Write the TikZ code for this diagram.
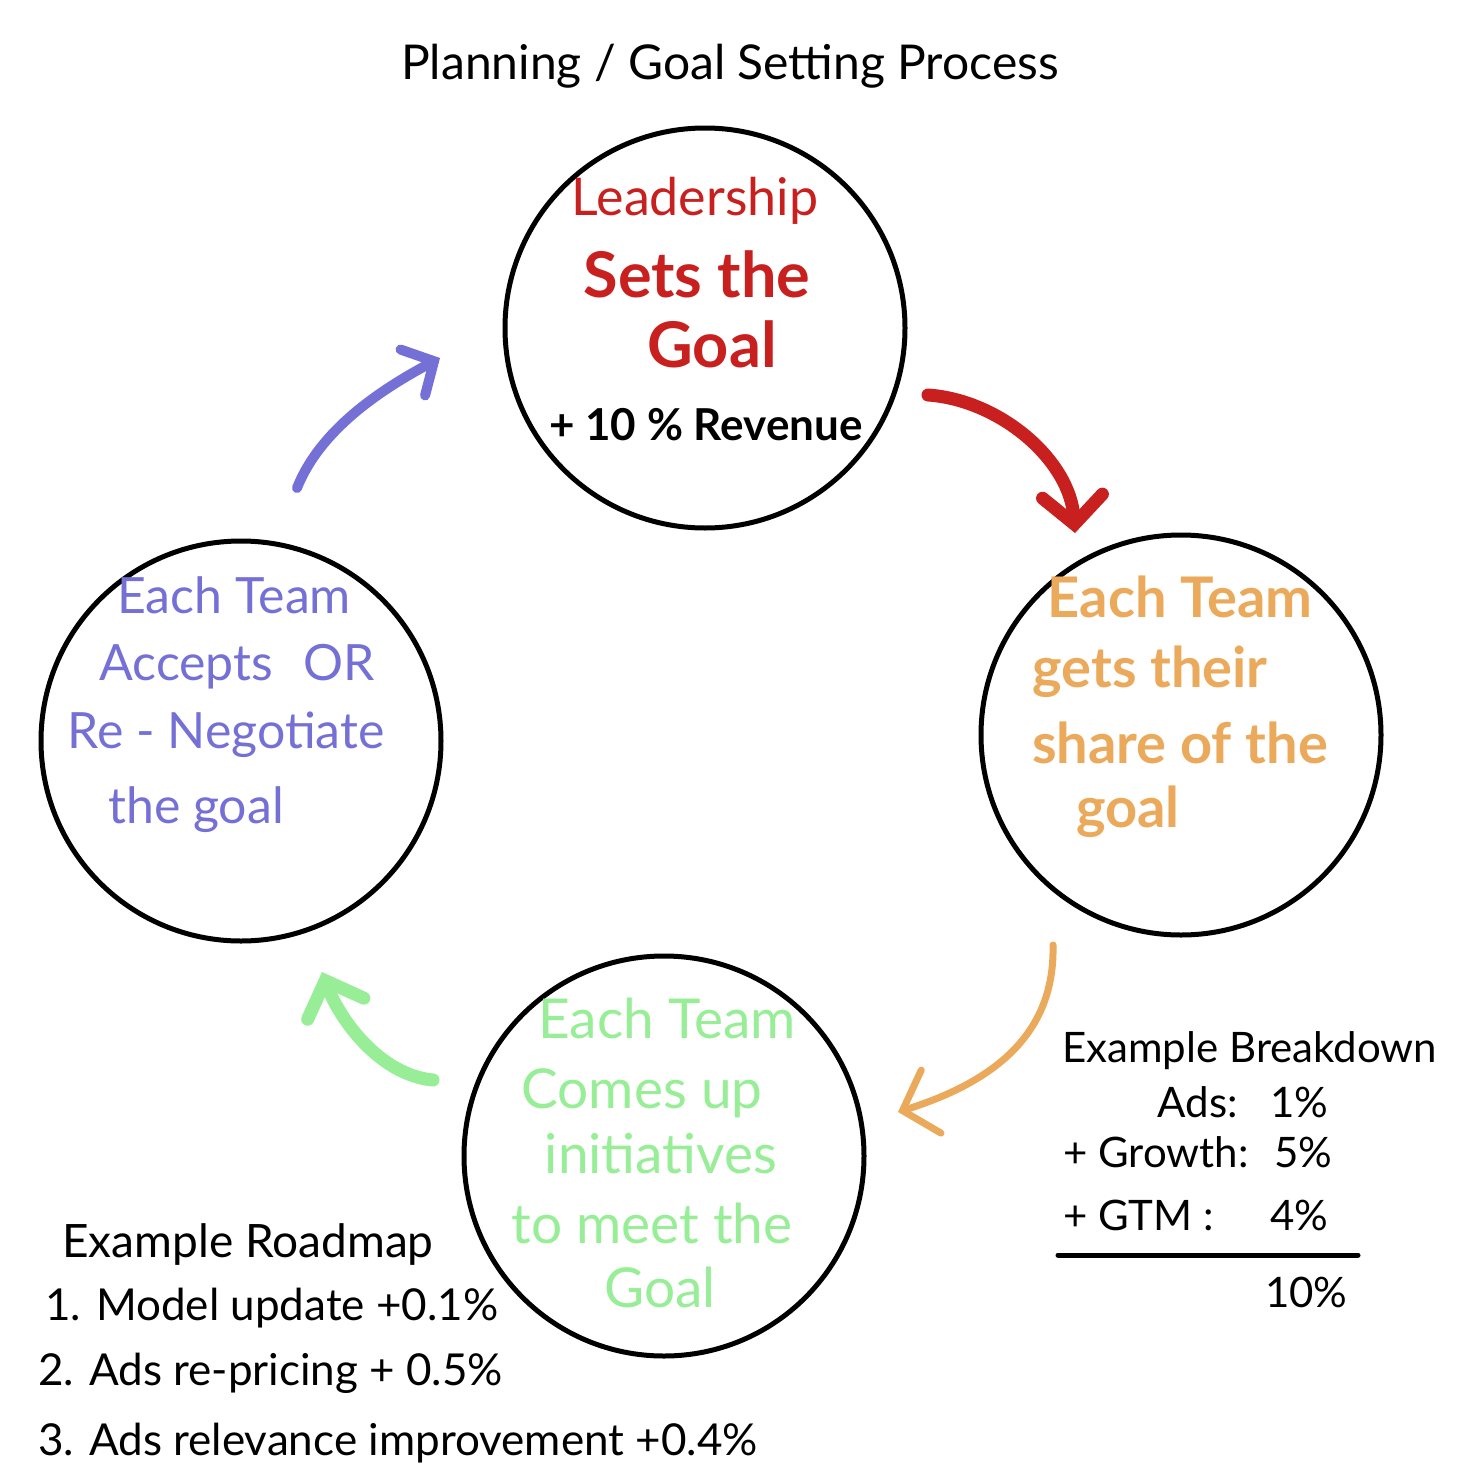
\documentclass[tikz,border=0pt]{standalone}
\usepackage{fontspec}
\setmainfont{Lato}
\usetikzlibrary{arrows.meta}
\definecolor{cred}{HTML}{C8201E}
\definecolor{corange}{HTML}{EBAA5B}
\definecolor{cpurple}{HTML}{7570D6}
\definecolor{cgreen}{HTML}{97EE97}
\newcommand{\fs}[1]{\fontsize{#1}{#1}\selectfont}
\begin{document}
\begin{tikzpicture}[x=1pt,y=-1pt,
  stage/.style={circle,draw=black,line width=5pt,minimum size=400pt,inner sep=0pt},
  txt/.style={inner sep=0pt,anchor=base},
  txl/.style={inner sep=0pt,anchor=base west},
  flow/.style={line cap=round},
]
\useasboundingbox (0,0) rectangle (1456,1472);
\fill[white] (0,0) rectangle (1456,1472);

% title
\node[txt,font=\fs{48}] (title) at (730,80) {Planning / Goal Setting Process};

% circles
\node[stage] (top) at (705,328) {};
\node[stage] (right) at (1181,735) {};
\node[stage] (left) at (241,741) {};
\node[stage] (bottom) at (664,1156) {};

% top circle text
\node[txt,text=cred,font=\fs{52}] (t1) at (695,215) {Leadership};
\node[txt,text=cred,font=\fs{63}\bfseries] (t2) at (697,297) {Sets the};
\node[txt,text=cred,font=\fs{63}\bfseries] (t3) at (712,367) {Goal};
\node[txt,font=\fs{44}\bfseries] (t4) at (706,440) {+ 10 \% Revenue};

% right circle text
\node[txt,text=corange,font=\fs{56}\bfseries] (r1) at (1180,617) {Each Team};
\node[txt,text=corange,font=\fs{56}\bfseries] (r2) at (1150,687) {gets their};
\node[txt,text=corange,font=\fs{56}\bfseries] (r3) at (1180,763) {share of the};
\node[txt,text=corange,font=\fs{56}\bfseries] (r4) at (1128,827) {goal};

% left circle text
\node[txt,text=cpurple,font=\fs{50}] (l1) at (234,613) {Each Team};
\node[txt,text=cpurple,font=\fs{50}] (l2) at (237,680) {Accepts\hspace{0.6em}OR};
\node[txt,text=cpurple,font=\fs{50}] (l3) at (226,748) {Re - Negotiate};
\node[txt,text=cpurple,font=\fs{50}] (l4) at (196,823) {the goal};

% bottom circle text
\node[txt,text=cgreen,font=\fs{55}] (b1) at (667,1038) {Each Team};
\node[txt,text=cgreen,font=\fs{55}] (b2) at (642,1108) {Comes up};
\node[txt,text=cgreen,font=\fs{55}] (b3) at (661,1173) {initiatives};
\node[txt,text=cgreen,font=\fs{55}] (b4) at (652,1243) {to meet the};
\node[txt,text=cgreen,font=\fs{55}] (b5) at (660,1307) {Goal};

% example breakdown
\node[txl,font=\fs{42}] (eb) at (1062,1062) {Example Breakdown};
\node[inner sep=0pt,anchor=base east,font=\fs{42}] (eb1) at (1238,1117) {Ads:};
\node[txl,font=\fs{42}] (eb1v) at (1270,1117) {1\%};
\node[txl,font=\fs{42}] (eb2) at (1063,1167) {+ Growth:};
\node[txl,font=\fs{42}] (eb2v) at (1274,1167) {5\%};
\node[txl,font=\fs{42}] (eb3) at (1063,1230) {+ GTM :};
\node[txl,font=\fs{42}] (eb3v) at (1270,1230) {4\%};
\draw[line width=5pt,line cap=round] (1058,1255) -- (1358,1255);
\node[txl,font=\fs{42}] (ebt) at (1265,1307) {10\%};

% example roadmap
\node[txl,font=\fs{46}] (er) at (62,1257) {Example Roadmap};
\node[txl,font=\fs{44}] (er1) at (45,1320) {1. Model update +0.1\%};
\node[txl,font=\fs{44}] (er2) at (38,1385) {2. Ads re-pricing + 0.5\%};
\node[txl,font=\fs{44}] (er3) at (38,1455) {3. Ads relevance improvement +0.4\%};

% arrow end points
\coordinate (pS) at (297,488);
\coordinate (pE) at (440,358);
\coordinate (rS) at (928,395);
\coordinate (rE) at (1075,533);
\coordinate (oS) at (1053,945);
\coordinate (oE) at (898,1112);
\coordinate (gS) at (433,1080);
\coordinate (gE) at (322,972);

\draw[flow,cpurple,line width=10pt,-{Straight Barb[length=24pt,width=52pt,line cap=round]}]
  (pS) .. controls (320,430) and (380,390) .. (pE);
\draw[flow,cred,line width=13pt,-{Straight Barb[length=28pt,width=60pt,line cap=round]}]
  (rS) .. controls (1000,400) and (1070,460) .. (rE);
\draw[flow,corange,line width=7pt,-{Straight Barb[length=30pt,width=66pt,line cap=round]}]
  (oS) .. controls (1055,1030) and (1000,1080) .. (oE);
\draw[flow,cgreen,line width=13pt,-{Straight Barb[length=30pt,width=60pt,line cap=round]}]
  (gS) .. controls (380,1075) and (340,1020) .. (gE);
\end{tikzpicture}
\end{document}
